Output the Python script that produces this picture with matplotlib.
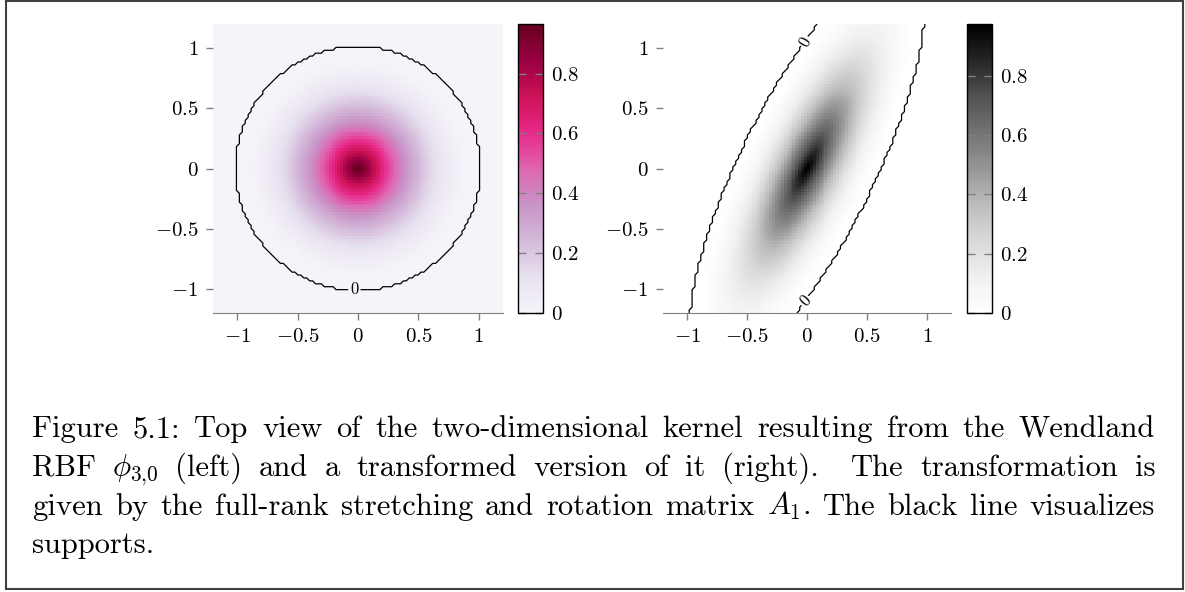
import numpy as np
import matplotlib
matplotlib.use("Agg")
import matplotlib.pyplot as plt
from matplotlib.patches import Rectangle
from matplotlib.ticker import FuncFormatter, FixedLocator

plt.rcParams["font.family"] = "cmr10"
plt.rcParams["mathtext.fontset"] = "cm"
plt.rcParams["axes.unicode_minus"] = False

# grid and kernel setup
extent = (-1.2, 1.2)
n_grid = 100
ticks_xy = [-1, -0.5, 0, 0.5, 1]
ticks_cb = [0, 0.2, 0.4, 0.6, 0.8]
# full-rank stretching and rotation matrix A_1
A1 = np.array([[1.636, -0.809],
               [0.235, 0.476]])

caption_lines = [
    "Figure 5.1: Top view of the two-dimensional kernel resulting from the Wendland",
    "RBF $\\phi_{3{,}0}$ (left) and a transformed version of it (right).  The transformation is",
    "given by the full-rank stretching and rotation matrix $A_1$. The black line visualizes",
    "supports.",
]


def wendland_30(r):
    return np.clip(1.0 - r, 0, None) ** 2


xs = np.linspace(extent[0], extent[1], n_grid)
X, Y = np.meshgrid(xs, xs)
Z_plain = wendland_30(np.hypot(X, Y))
U = A1[0, 0] * X + A1[0, 1] * Y
V = A1[1, 0] * X + A1[1, 1] * Y
Z_trans = wendland_30(np.hypot(U, V))

W, H = 1185, 592
fig = plt.figure(figsize=(W / 100, H / 100), dpi=100)


def px_axes(x0, y0, x1, y1):
    return fig.add_axes([x0 / W, 1 - y1 / H, (x1 - x0) / W, (y1 - y0) / H])


fmt = FuncFormatter(lambda v, p: f"${v:g}$")


def kernel_panel(ax, cax, Z, cmap, label_pos):
    mesh = ax.pcolormesh(X, Y, Z, cmap=cmap, shading="nearest",
                         vmin=0, vmax=Z.max(), rasterized=True)
    cs = ax.contour(X, Y, Z, levels=[0], colors="black", linewidths=0.9)
    ax.clabel(cs, fmt=lambda v: f"{v:g}", fontsize=12, inline=True,
              inline_spacing=2, manual=label_pos)
    ax.set_xlim(*extent)
    ax.set_ylim(*extent)
    ax.xaxis.set_major_locator(FixedLocator(ticks_xy))
    ax.yaxis.set_major_locator(FixedLocator(ticks_xy))
    ax.xaxis.set_major_formatter(fmt)
    ax.yaxis.set_major_formatter(fmt)
    for side in ("top", "right", "left"):
        ax.spines[side].set_visible(False)
    ax.spines["bottom"].set_color("#808080")
    ax.tick_params(colors="#808080", labelcolor="black", length=5,
                   width=1, labelsize=15, pad=5.5)

    cb = fig.colorbar(mesh, cax=cax)
    cb.set_ticks(ticks_cb)
    cb.ax.yaxis.set_major_formatter(fmt)
    cb.outline.set_edgecolor("black")
    cb.outline.set_linewidth(1.0)
    cax.tick_params(direction="in", left=True, right=True, color="#808080",
                    labelcolor="black", length=6, width=1, labelsize=15, pad=6)


ax1 = px_axes(213, 24, 503, 313)
cax1 = px_axes(518, 24, 543, 313)
ax2 = px_axes(663, 24, 951, 313)
cax2 = px_axes(967, 24, 992, 313)

kernel_panel(ax1, cax1, Z_plain, "PuRd", [(-0.03, -1.0)])
kernel_panel(ax2, cax2, Z_trans, "Greys", [(0.0, 1.04), (-0.03, -1.08)])

# caption, set justified word by word
renderer = fig.canvas.get_renderer()
left_px, right_px = 32, 1155
baselines = [437, 476, 515, 553]
for i, line in enumerate(caption_lines):
    words = line.split(" ")
    gaps = []
    texts = []
    extra = 0
    for w in words:
        if w == "":
            extra += 1
            continue
        t = fig.text(0, 1 - baselines[i] / H, w, fontsize=22,
                     va="baseline", ha="left")
        texts.append(t)
        gaps.append(1 + extra)
        extra = 0
    widths = [t.get_window_extent(renderer).width for t in texts]
    if i < len(caption_lines) - 1:
        total_gap = (right_px - left_px) - sum(widths)
        unit = total_gap / sum(gaps[1:])
    else:
        unit = 9
    x = left_px
    for j, t in enumerate(texts):
        if j > 0:
            x += unit * gaps[j]
        t.set_x(x / W)
        x += widths[j]

fig.add_artist(Rectangle((6 / W, 1 - 589 / H), (1183 - 6) / W, (589 - 1) / H,
                         transform=fig.transFigure, fill=False,
                         edgecolor="#404040", linewidth=1.5))

fig.savefig("out.png", dpi=100)
